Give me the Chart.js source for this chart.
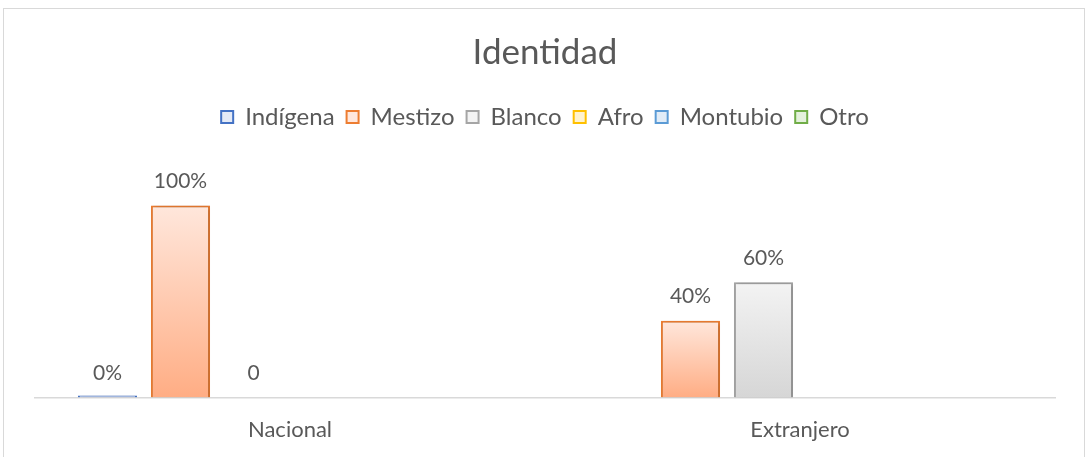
<!DOCTYPE html>
<html>
<head>
<meta charset="utf-8">
<script src="https://cdn.jsdelivr.net/npm/chart.js@4"></script>
<style>
    html, body { margin: 0; padding: 0; background: #fff; overflow: hidden; }
    #marco {
        position: absolute; left: 3px; top: 8px; width: 1082px; height: 470px;
        border: 1px solid #D9D9D9; box-sizing: border-box;
    }
    #wrap { position: absolute; left: 0; top: 0; width: 1087px; height: 462px; }
</style>
</head>
<body>
<div id="marco"></div>
<div id="wrap"><canvas id="identidadChart"></canvas></div>
<script>
// Datos
const categorias = ['Nacional', 'Extranjero'];
const series = ['Indígena', 'Mestizo', 'Blanco', 'Afro', 'Montubio', 'Otro'];
const indigena = [0, null];
const mestizo = [1, 0.4];
const blanco = [0, 0.6];
const afro = [null, null];
const montubio = [null, null];
const otro = [null, null];
// formato de etiqueta por punto ('pct' = porcentaje, 'gen' = número general)
const formatoBlanco = ['gen', 'pct'];

// Colores tipo Excel: borde, degradado arriba, degradado abajo
const bordes = ['#4472C4', '#ED7D31', '#A5A5A5', '#FFC000', '#5B9BD5', '#70AD47'];
const claros = ['#E4EAF6', '#FFE7DC', '#F3F3F3', '#FFF3CF', '#E1ECF7', '#E4F1DC'];
const oscuros = ['#ADC1EA', '#FFAD84', '#D6D6D6', '#FFDB6B', '#A9CBEB', '#B3D899'];

const textoGris = '#595959';
const fuente = 'Lato, "Open Sans", sans-serif';

function degradado(i) {
    return function (context) {
        const chart = context.chart;
        const area = chart.chartArea;
        if (!area || context.type !== 'data') return claros[i];
        const v = context.raw;
        if (v === null || v === undefined) return claros[i];
        const y = chart.scales.y;
        const top = y.getPixelForValue(v);
        const base = y.getPixelForValue(0);
        if (Math.abs(base - top) < 1) return oscuros[i];
        const g = chart.ctx.createLinearGradient(0, top, 0, base);
        g.addColorStop(0, claros[i]);
        g.addColorStop(1, oscuros[i]);
        return g;
    };
}

const valores = [indigena, mestizo, blanco, afro, montubio, otro];
const datasets = series.map((nombre, i) => ({
    label: nombre,
    data: valores[i],
    backgroundColor: degradado(i),
    borderColor: bordes[i],
    borderWidth: 2,
    borderSkipped: 'bottom',
    minBarLength: nombre === 'Indígena' ? 2 : 0,
    formato: nombre === 'Blanco' ? formatoBlanco : null
}));

// Espacio extra entre la leyenda y el área del gráfico
const espacioLeyenda = {
    id: 'espacioLeyenda',
    beforeInit: (chart) => {
        const fitOriginal = chart.legend.fit;
        chart.legend.fit = function () {
            fitOriginal.bind(chart.legend)();
            this.height += 28;
        };
    }
};

// Sombra suave bajo las barras
const sombraPlugin = {
    id: 'sombraPlugin',
    beforeDatasetsDraw: (chart) => {
        const ctx = chart.ctx;
        ctx.save();
        ctx.shadowColor = 'rgba(0, 0, 0, 0.28)';
        ctx.shadowBlur = 4;
        ctx.shadowOffsetX = 1;
        ctx.shadowOffsetY = 1;
    },
    afterDatasetsDraw: (chart) => {
        chart.ctx.restore();
    }
};

// Etiquetas de valor encima de cada barra
const etiquetasPlugin = {
    id: 'etiquetasPlugin',
    afterDatasetsDraw: (chart) => {
        const ctx = chart.ctx;
        ctx.save();
        ctx.font = '21px ' + fuente;
        ctx.fillStyle = textoGris;
        ctx.textAlign = 'center';
        ctx.textBaseline = 'middle';
        chart.data.datasets.forEach((ds, di) => {
            const meta = chart.getDatasetMeta(di);
            meta.data.forEach((bar, idx) => {
                const v = ds.data[idx];
                if (v === null || v === undefined) return;
                const fmt = ds.formato ? ds.formato[idx] : 'pct';
                const texto = fmt === 'gen' ? String(v) : Math.round(v * 100) + '%';
                const yTop = chart.scales.y.getPixelForValue(v);
                ctx.fillText(texto, bar.x, yTop - 24);
            });
        });
        ctx.restore();
    }
};

var identidadCtx = document.getElementById('identidadChart').getContext('2d');
var identidadChart = new Chart(identidadCtx, {
    type: 'bar',
    data: {
        labels: categorias,
        datasets: datasets
    },
    options: {
        responsive: true,
        maintainAspectRatio: false,
        animation: false,
        categoryPercentage: 0.859,
        barPercentage: 0.81,
        layout: {
            padding: { left: 35, right: 32, top: 26, bottom: 0 }
        },
        scales: {
            y: {
                display: false,
                min: 0,
                max: 1.2
            },
            x: {
                grid: { display: false, drawTicks: false },
                border: { display: true, color: '#D9D9D9', width: 1.5 },
                ticks: {
                    color: textoGris,
                    padding: 19,
                    font: { family: fuente, size: 22 }
                }
            }
        },
        plugins: {
            title: {
                display: true,
                text: 'Identidad',
                color: textoGris,
                padding: { top: 6, bottom: 19 },
                font: { family: fuente, size: 35, weight: 'normal' }
            },
            legend: {
                position: 'top',
                labels: {
                    color: textoGris,
                    boxWidth: 12,
                    boxHeight: 12,
                    padding: 12,
                    font: { family: fuente, size: 24 },
                    generateLabels: (chart) => chart.data.datasets.map((ds, i) => ({
                        text: ds.label,
                        fillStyle: claros[i],
                        strokeStyle: bordes[i],
                        lineWidth: 2,
                        fontColor: textoGris,
                        hidden: false,
                        datasetIndex: i
                    }))
                }
            },
            tooltip: { enabled: false }
        }
    },
    plugins: [espacioLeyenda, sombraPlugin, etiquetasPlugin]
});
</script>
</body>
</html>
